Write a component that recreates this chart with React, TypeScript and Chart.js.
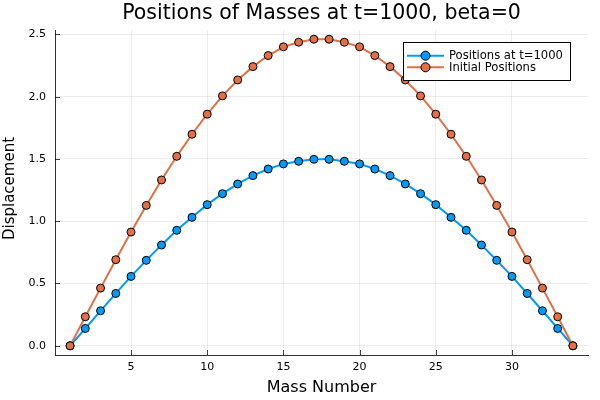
import React, { useEffect, useRef } from "react";
import { Chart, registerables } from "chart.js";

Chart.register(...registerables);

const massNumbers = [
  1, 2, 3, 4, 5, 6, 7, 8, 9, 10, 11, 12, 13, 14, 15, 16, 17,
  18, 19, 20, 21, 22, 23, 24, 25, 26, 27, 28, 29, 30, 31, 32, 33, 34,
];

const positionsT1000 = [
  0, 0.139, 0.281, 0.42, 0.557, 0.686, 0.809, 0.927, 1.031, 1.133, 1.221, 1.299,
  1.366, 1.419, 1.46, 1.481, 1.497, 1.497, 1.481, 1.46, 1.419, 1.366, 1.299,
  1.221, 1.133, 1.031, 0.927, 0.809, 0.686, 0.557, 0.42, 0.281, 0.139, 0,
];

const initialPositions = [
  0, 0.233, 0.463, 0.691, 0.913, 1.127, 1.331, 1.521, 1.698, 1.859, 2.006, 2.134,
  2.241, 2.33, 2.4, 2.437, 2.461, 2.461, 2.437, 2.4, 2.33, 2.241, 2.134, 2.006,
  1.859, 1.698, 1.521, 1.331, 1.127, 0.913, 0.691, 0.463, 0.233, 0,
];

const xTickValues = [5, 10, 15, 20, 25, 30];
const yTickValues = [0, 0.5, 1.0, 1.5, 2.0, 2.5];

const seriesLabels = ["Positions at t=1000", "Initial Positions"];
const titleText = "Positions of Masses at t=1000, beta=0";
const xTitle = "Mass Number";
const yTitle = "Displacement";

const BLUE = "#009AFA";
const ORANGE = "#E26F46";
const FONT = "'DejaVu Sans', sans-serif";

const textPlugin = {
  id: "juliaTexts",
  afterDraw(chart: any) {
    const { ctx, chartArea } = chart;
    const cx = (chartArea.left + chartArea.right) / 2;
    ctx.save();
    ctx.fillStyle = "#000";
    ctx.textAlign = "center";
    ctx.textBaseline = "alphabetic";
    ctx.font = `20.5px ${FONT}`;
    ctx.fillText(titleText, cx, 19);
    ctx.font = `16px ${FONT}`;
    ctx.fillText(xTitle, cx, 392);
    ctx.translate(10.5, 188.5);
    ctx.rotate(-Math.PI / 2);
    ctx.font = `15px ${FONT}`;
    ctx.textBaseline = "middle";
    ctx.fillText(yTitle, 0, 0);
    ctx.restore();
  },
};

const innerTicksPlugin = {
  id: "innerTicks",
  beforeDatasetsDraw(chart: any) {
    const { ctx, chartArea, scales } = chart;
    ctx.save();
    ctx.strokeStyle = "rgba(0,0,0,0.75)";
    ctx.lineWidth = 1;
    ctx.beginPath();
    scales.x.ticks.forEach((t: any) => {
      const px = Math.round(scales.x.getPixelForValue(t.value)) + 0.5;
      ctx.moveTo(px, chartArea.bottom);
      ctx.lineTo(px, chartArea.bottom - 5);
    });
    scales.y.ticks.forEach((t: any) => {
      const py = Math.round(scales.y.getPixelForValue(t.value)) + 0.5;
      ctx.moveTo(chartArea.left, py);
      ctx.lineTo(chartArea.left + 5, py);
    });
    ctx.stroke();
    ctx.restore();
  },
};

const legendPlugin = {
  id: "juliaLegend",
  afterDraw(chart: any) {
    const { ctx } = chart;
    const bx = 403.5;
    const by = 42.5;
    const bw = 167;
    const bh = 38;
    ctx.save();
    ctx.fillStyle = "#fff";
    ctx.fillRect(bx, by, bw, bh);
    ctx.strokeStyle = "#000";
    ctx.lineWidth = 1;
    ctx.strokeRect(bx, by, bw, bh);
    const colors = [BLUE, ORANGE];
    const rows = [55.7, 67.3];
    seriesLabels.forEach((lab, i) => {
      const y = rows[i];
      ctx.strokeStyle = colors[i];
      ctx.lineWidth = 2;
      ctx.beginPath();
      ctx.moveTo(407, y);
      ctx.lineTo(444, y);
      ctx.stroke();
      ctx.beginPath();
      ctx.arc(425.5, y, 4.5, 0, Math.PI * 2);
      ctx.fillStyle = colors[i];
      ctx.fill();
      ctx.strokeStyle = "#000";
      ctx.lineWidth = 1;
      ctx.stroke();
      ctx.fillStyle = "#000";
      ctx.font = `11.6px ${FONT}`;
      ctx.textAlign = "left";
      ctx.textBaseline = "middle";
      ctx.fillText(lab, 449, y + 0.5);
    });
    ctx.restore();
  },
};

export default function App() {
  const canvasRef = useRef<HTMLCanvasElement | null>(null);

  useEffect(() => {
    document.body.style.margin = "0";
    const canvas = canvasRef.current;
    if (!canvas) return;
    const chart = new Chart(canvas, {
      type: "line",
      data: {
        datasets: [
          {
            label: seriesLabels[0],
            data: massNumbers.map((m, i) => ({ x: m, y: positionsT1000[i] })),
            borderColor: BLUE,
            backgroundColor: BLUE,
            pointBackgroundColor: BLUE,
            pointBorderColor: "#000",
            pointBorderWidth: 1,
            pointRadius: 4,
            borderWidth: 2,
            tension: 0,
            order: 1,
          },
          {
            label: seriesLabels[1],
            data: massNumbers.map((m, i) => ({ x: m, y: initialPositions[i] })),
            borderColor: ORANGE,
            backgroundColor: ORANGE,
            pointBackgroundColor: ORANGE,
            pointBorderColor: "#000",
            pointBorderWidth: 1,
            pointRadius: 4,
            borderWidth: 2,
            tension: 0,
            order: 0,
          },
        ],
      },
      options: {
        animation: false,
        responsive: false,
        events: [],
        layout: { padding: { top: 30, right: 12, left: 0, bottom: 0 } },
        plugins: {
          legend: { display: false },
          title: { display: false },
          tooltip: { enabled: false },
        },
        scales: {
          x: {
            type: "linear",
            min: 0.01,
            max: 34.99,
            afterBuildTicks: (scale: any) => {
              scale.ticks = xTickValues.map((v) => ({ value: v }));
            },
            afterFit: (scale: any) => {
              scale.height = 45;
            },
            grid: {
              color: "rgba(0,0,0,0.07)",
              lineWidth: 1,
              drawTicks: false,
            },
            border: { display: true, color: "#333", width: 1 },
            ticks: {
              padding: 6,
              color: "#000",
              font: { family: FONT, size: 11 },
              maxRotation: 0,
              callback: (v: any) => String(v),
            },
            title: { display: false },
          },
          y: {
            type: "linear",
            min: -0.074,
            max: 2.535,
            afterBuildTicks: (scale: any) => {
              scale.ticks = yTickValues.map((v) => ({ value: v }));
            },
            afterFit: (scale: any) => {
              scale.width = 55;
            },
            grid: {
              color: "rgba(0,0,0,0.07)",
              lineWidth: 1,
              drawTicks: false,
            },
            border: { display: true, color: "#333", width: 1 },
            ticks: {
              padding: 9,
              color: "#000",
              font: { family: FONT, size: 11 },
              callback: (v: any) => Number(v).toFixed(1),
            },
            title: { display: false },
          },
        },
      },
      plugins: [innerTicksPlugin, textPlugin, legendPlugin],
    } as any);
    return () => chart.destroy();
  }, []);

  return (
    <div style={{ width: 600, height: 400 }}>
      <canvas ref={canvasRef} width={600} height={400} style={{ display: "block", width: 600, height: 400 }} />
    </div>
  );
}
